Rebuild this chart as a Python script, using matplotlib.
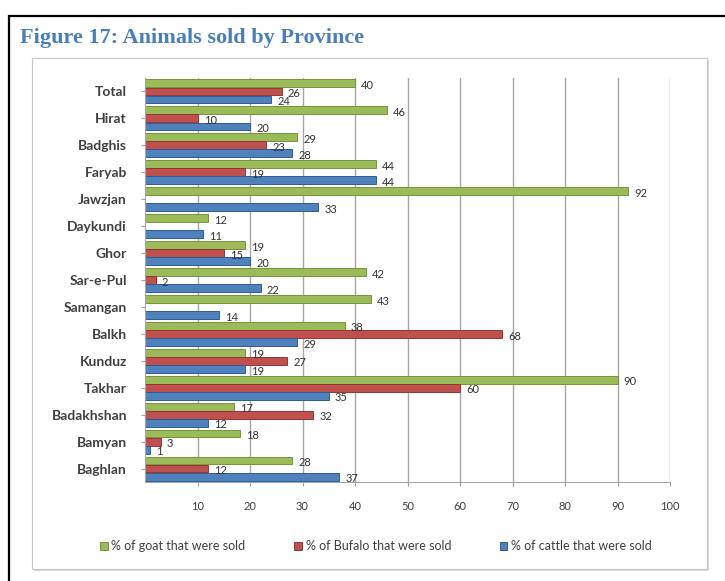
import numpy as np
import matplotlib
matplotlib.use("Agg")
import matplotlib.pyplot as plt
from matplotlib.patches import Rectangle

# Data (top to bottom as shown in the chart)
provinces = ['Total', 'Hirat', 'Badghis', 'Faryab', 'Jawzjan', 'Daykundi', 'Ghor',
             'Sar-e-Pul', 'Samangan', 'Balkh', 'Kunduz', 'Takhar', 'Badakhshan',
             'Bamyan', 'Baghlan']
goat = [40, 46, 29, 44, 92, 12, 19, 42, 43, 38, 19, 90, 17, 18, 28]
bufalo = [26, 10, 23, 19, 0, 0, 15, 2, 0, 68, 27, 60, 32, 3, 12]
cattle = [24, 20, 28, 44, 33, 11, 20, 22, 14, 29, 19, 35, 12, 1, 37]
xticks = [10, 20, 30, 40, 50, 60, 70, 80, 90, 100]

series = [
    ('% of goat that were sold', goat, '#9bbb59', '#77933c'),
    ('% of Bufalo that were sold', bufalo, '#c0504d', '#943634'),
    ('% of cattle that were sold', cattle, '#4f81bd', '#2c5d96'),
]

plt.rcParams['font.family'] = ['Lato', 'DejaVu Sans']

fig = plt.figure(figsize=(7.25, 5.81), dpi=100)

# outer black frame and chart box
fig.patches.append(Rectangle((9/725, -0.02), 0.99, 1 - 16/581 + 0.02, transform=fig.transFigure,
                             fill=False, edgecolor='black', lw=1.6, zorder=-3))
fig.patches.append(Rectangle((34/725, 1 - 571/581), (707-32)/725, (569-58)/581, transform=fig.transFigure,
                             facecolor='#d9d9d9', edgecolor='none', zorder=-2))
fig.patches.append(Rectangle((32/725, 1 - 569/581), (707-32)/725, (569-58)/581, transform=fig.transFigure,
                             facecolor='white', edgecolor='#c8c8c8', lw=0.8, zorder=-1))

fig.text(20/725, 1 - 38/581, 'Figure 17: Animals sold by Province', color='#4a7ebb',
         fontsize=16, fontweight='bold', family='Liberation Serif', va='center', ha='left')

ax = fig.add_axes([145/725, 1 - 482/581, (670-145)/725, (482-78)/581], zorder=2)
ax.set_facecolor('none')

n = len(provinces)
ypos = np.arange(n)[::-1]
h = 0.3
offsets = [h, 0, -h]

for (name, vals, col, edge), off in zip(series, offsets):
    bars = ax.barh(ypos + off, vals, height=h * 0.97, color=col, edgecolor=edge, lw=0.7, label=name)
    for b, v in zip(bars, vals):
        if v > 0:
            ax.text(b.get_width() + 1.2, b.get_y() + b.get_height() / 2 - 0.08, str(v),
                    fontsize=8, color='#333333', va='center', ha='left')

ax.set_xlim(0, 100)
ax.set_ylim(-0.5, n - 0.5)
ax.set_xticks(xticks)
ax.set_xticklabels([str(t) for t in xticks], fontsize=8, color='#404040')
ax.set_yticks(ypos)
ax.set_yticklabels(provinces, fontsize=10, color='#404040', fontweight='bold')
ax.tick_params(axis='x', length=3, pad=11, color='#a0a0a0')
ax.tick_params(axis='y', length=3, pad=10, color='#a0a0a0')
ax.grid(axis='x', color='#a6a6a6', lw=1.0)
ax.set_axisbelow(True)
for s in ['top', 'right']:
    ax.spines[s].set_visible(False)
ax.spines['left'].set_color('#a6a6a6')
ax.spines['bottom'].set_color('#a6a6a6')

fig.legend(loc='center', bbox_to_anchor=(376/725, 1 - 546/581), ncol=3, frameon=False,
           fontsize=9, handlelength=0.6, handleheight=0.6, handletextpad=0.3,
           columnspacing=3.9, labelcolor='#404040')

fig.savefig('out.png', dpi=100)
